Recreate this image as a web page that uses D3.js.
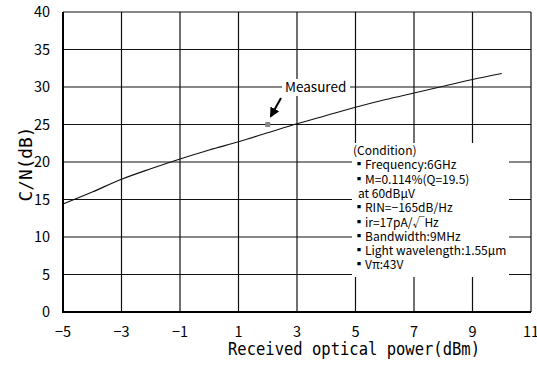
<!DOCTYPE html>
<html>
<head>
<meta charset="utf-8">
<script src="https://cdn.jsdelivr.net/npm/d3@7"></script>
<style>
  body { margin: 0; background: #fff; }
  svg { display: block; }
</style>
</head>
<body>
<svg id="chart" width="537" height="372"></svg>
<script>
// data
const powerDbm = [-5, -4, -3, -2, -1, 0, 1, 2, 3, 4, 5, 6, 7, 8, 9, 10]
const cnDb = [14.4, 16.0, 17.7, 19.1, 20.4, 21.6, 22.7, 23.9, 25.1, 26.2, 27.3, 28.3, 29.2, 30.1, 31.0, 31.8]
const measured = [{ x: 2, y: 25.0 }]
const xTicks = [-5, -3, -1, 1, 3, 5, 7, 9, 11]
const yTicks = [0, 5, 10, 15, 20, 25, 30, 35, 40]
const conditionLines = [
  '(Condition)',
  '▪Frequency:6GHz',
  '▪M=0.114%(Q=19.5)',
  'at 60dBμV',
  '▪RIN=−165dB/Hz',
  '▪ir=17pA/√Hz',
  '▪Bandwidth:9MHz',
  '▪Light wavelength:1.55μm',
  '▪Vπ:43V'
]

const margin = { top: 12, right: 6, bottom: 60, left: 63 }
const W = 537, H = 372

const x = d3.scaleLinear().domain([-5, 11]).range([margin.left, W - margin.right])
const y = d3.scaleLinear().domain([0, 40]).range([H - margin.bottom, margin.top])

const svg = d3.select('#chart')
const font = "'Noto Sans CJK JP', 'Noto Sans', sans-serif"

// curve
const line = d3.line()
  .x(d => x(d[0]))
  .y(d => y(d[1]))
  .curve(d3.curveCatmullRom)
svg.append('path')
  .datum(d3.zip(powerDbm, cnDb))
  .attr('d', line)
  .attr('fill', 'none')
  .attr('stroke', '#111')
  .attr('stroke-width', 1.2)

// grid (one path per direction)
svg.append('path')
  .attr('d', xTicks.map(d => `M${x(d)},${y(40)}V${y(0)}`).join(''))
  .attr('fill', 'none')
  .attr('stroke', '#111')
  .attr('stroke-width', 1.2)
svg.append('path')
  .attr('d', yTicks.map(d => `M${x(-5)},${y(d)}H${x(11)}`).join(''))
  .attr('fill', 'none')
  .attr('stroke', '#111')
  .attr('stroke-width', 1.2)

// left and bottom axis a bit heavier
svg.append('path')
  .attr('d', `M${x(-5)},${y(40)}V${y(0)}H${x(11)}`)
  .attr('fill', 'none')
  .attr('stroke', '#000').attr('stroke-width', 2)

// tick labels
svg.append('g')
  .selectAll('text')
  .data(yTicks)
  .join('text')
  .attr('x', 50)
  .attr('y', d => y(d) + 5)
  .attr('text-anchor', 'end')
  .style('font-family', font)
  .style('font-size', '14.5px')
  .text(d => d)

svg.append('g')
  .selectAll('text')
  .data(xTicks)
  .join('text')
  .attr('x', d => x(d))
  .attr('y', 337)
  .attr('text-anchor', 'middle')
  .style('font-family', font)
  .style('font-size', '14.5px')
  .text(d => d < 0 ? '−' + Math.abs(d) : d)

// axis titles
svg.append('text')
  .attr('x', 228)
  .attr('y', 355)
  .attr('textLength', 252)
  .attr('lengthAdjust', 'spacingAndGlyphs')
  .style('font-family', "'DejaVu Sans Mono', monospace")
  .style('font-size', '18px')
  .text('Received optical power(dBm)')

svg.append('text')
  .attr('transform', 'translate(32,164) rotate(-90)')
  .attr('text-anchor', 'middle')
  .attr('textLength', 75)
  .attr('lengthAdjust', 'spacingAndGlyphs')
  .style('font-family', "'DejaVu Sans Mono', monospace")
  .style('font-size', '17px')
  .text('C/N(dB)')

// measured point
svg.append('g')
  .selectAll('path')
  .data(measured)
  .join('path')
  .attr('d', d3.symbol(d3.symbolSquare, 25))
  .attr('transform', d => `translate(${x(d.x)},${y(d.y)})`)
  .attr('fill', '#888')

// annotation arrow
svg.append('defs').append('marker')
  .attr('id', 'arrowhead')
  .attr('viewBox', '0 -5 10 10')
  .attr('refX', 8)
  .attr('refY', 0)
  .attr('markerWidth', 5)
  .attr('markerHeight', 5)
  .attr('orient', 'auto')
  .append('path')
  .attr('d', 'M0,-5L10,0L0,5Z')
  .attr('fill', '#000')
svg.append('path')
  .attr('d', 'M281,98L271,116')
  .attr('stroke', '#000').attr('stroke-width', 2)
  .attr('marker-end', 'url(#arrowhead)')
svg.append('path')
  .attr('d', 'M282,79h68v17h-68Z')
  .attr('fill', '#fff')
svg.append('text')
  .attr('x', 285)
  .attr('y', 92)
  .style('font-family', font)
  .style('font-size', '13.5px')
  .text('Measured')

// condition box
svg.append('path')
  .attr('d', 'M352,143h157v134h-157Z')
  .attr('fill', '#fff')
svg.append('g')
  .selectAll('text')
  .data(conditionLines)
  .join('text')
  .attr('x', d => d.startsWith('at') ? 358 : 353)
  .attr('y', (d, i) => 155 + i * 14.3)
  .style('font-family', font)
  .style('font-size', '12px')
  .text(d => d)
</script>
</body>
</html>
